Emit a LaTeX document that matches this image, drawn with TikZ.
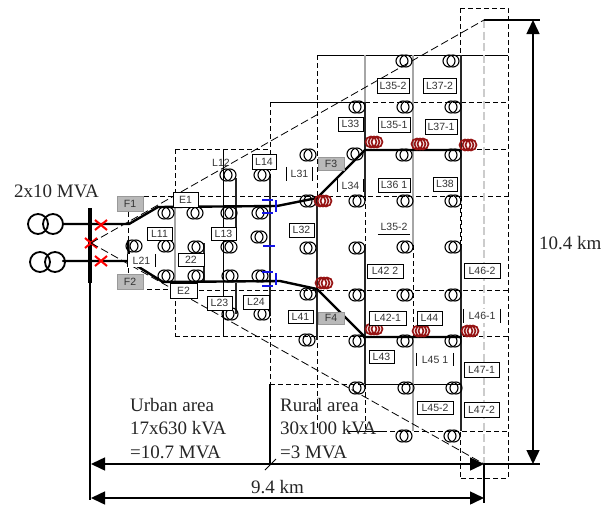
\documentclass[tikz,border=0pt]{standalone}
\usepackage{fontspec}
\setmainfont{Liberation Serif}
\newfontfamily\labfont{Liberation Sans}
\usetikzlibrary{arrows.meta}
\definecolor{darkred}{RGB}{150,20,20}
\definecolor{hvblue}{RGB}{20,20,230}
\definecolor{fgrey}{RGB}{185,185,185}
\tikzset{
  gridd/.style={line width=0.7pt,dash pattern=on 5pt off 3pt},
  grids/.style={line width=0.7pt},
  heavy/.style={line width=2.4pt,line cap=round,line join=round},
  feeder/.style={line width=1.8pt,black!85},
  greyline/.style={line width=1.6pt,black!35},
  longd/.style={line width=0.8pt,dash pattern=on 8pt off 3.5pt},
  dim/.style={line width=1.5pt,{Triangle[length=14pt,width=13pt]}-{Triangle[length=14pt,width=13pt]}},
  lab/.style={font=\labfont\fontsize{10.5}{11}\selectfont,fill=white,inner sep=0pt,text=black!80},
  boxed/.style={lab,draw,line width=0.7pt},
  fbox/.style={lab,fill=fgrey,draw=black!40,line width=0.5pt},
  bigt/.style={font=\fontsize{19}{22}\selectfont,inner sep=0pt,anchor=base west,text=black!85},
  ring/.style={draw,line width=1.1pt,circle,minimum size=12pt,inner sep=0pt},
  redring/.style={draw=darkred,line width=1.7pt,circle,minimum size=11pt,inner sep=0pt},
  hv/.style={draw,line width=1.8pt,circle,minimum size=20pt,inner sep=0pt},
  fault/.style={red,line width=2pt},
  bluemark/.style={hvblue,line width=1.6pt}
}
\newcommand{\xfmr}[3]{\node[ring] (#1a) at (#2-2,#3) {};\node[ring] (#1b) at (#2+2,#3) {};}
\newcommand{\redx}[3]{\node[redring] (#1a) at (#2-3,#3) {};\node[redring] (#1b) at (#2,#3) {};\node[redring] (#1c) at (#2+3,#3) {};}
\newcommand{\lbox}[7]{\node[#1,minimum width={(#4-#2)*1pt},minimum height={(#5-#3)*1pt}] (#6) at ({(#2+#4)/2},{(#3+#5)/2}) {#7};}
\newcommand{\lside}[6]{\node[lab,minimum width={(#3-#1)*1pt},minimum height={(#4-#2)*1pt}] (#5) at ({(#1+#3)/2},{(#2+#4)/2}) {#6};
  \draw[grids] (#5.north west)--(#5.south west) (#5.north east)--(#5.south east);}
\newcommand{\fx}[3]{\coordinate (#1) at (#2,#3);\draw[fault] (#2-6,#3-5)--(#2+6,#3+5) (#2-6,#3+5)--(#2+6,#3-5);}
\begin{document}
\begin{tikzpicture}[x=1pt,y=-1pt]
\useasboundingbox (0,0) rectangle (611,504);
% grid
\draw[gridd] (175,149)--(270,149) (365,149)--(508,149);
\draw[gridd] (128,196)--(508,196);
\draw[gridd] (128,196)--(128,289)--(175,289);
\draw[gridd] (175,290)--(508,290);
\draw[gridd,line width=1pt] (175,336)--(508,336);
\draw[grids] (270,102)--(365,102);
\draw[gridd] (365,102)--(508,102);
\draw[grids] (317,55)--(508,55);
\draw[gridd] (460,8)--(508,8)--(508,478)--(460,478);
\draw[gridd] (460,8)--(460,478);
\draw[gridd] (175,149)--(175,336);
\draw[gridd] (270,102)--(270,384);
\draw[gridd] (317,55)--(317,431);
\draw[gridd] (365,196)--(365,245) (365,384)--(365,431);
\draw[gridd] (413,245)--(413,337);
\draw[gridd] (461,196)--(461,245);
\draw[gridd] (270,384)--(365,384);
\draw[grids] (365,384)--(461,384);
\draw[grids] (347,431)--(382,431);
\draw[gridd,line width=1pt] (382,431)--(508,431);
\draw[grids] (223,149)--(223,336);
\draw[line width=1.4pt] (270,384)--(270,464);
% grey and feeder lines
\draw[longd,black!20,line width=1.4pt] (484,20)--(484,464);
\draw[greyline] (175,207)--(175,282);
\draw[greyline] (365,55)--(365,102);
\draw[greyline] (413,55)--(413,245) (413,337)--(413,431);
\draw[feeder] (236,178)--(236,241);
\draw[feeder] (204,243)--(204,281);
\draw[feeder] (236,283)--(236,314);
\draw[feeder] (270,178)--(270,316);
\draw[feeder] (317,198)--(317,340);
\draw[feeder] (365,102)--(365,196);
\draw[feeder] (365,245)--(365,384);
\draw[feeder] (461,55)--(461,196);
\draw[feeder] (461,245)--(461,431);
% main bus and feeders
\coordinate (bt) at (90,208); \coordinate (bb) at (90,283); \coordinate (be) at (90,500);
\coordinate (up0) at (63,224); \coordinate (up1) at (129,224); \coordinate (up2) at (158,207);
\coordinate (up3) at (277,206); \coordinate (j3) at (317,198); \coordinate (j5) at (365,150); \coordinate (j7) at (461,150);
\coordinate (lo0) at (63,261); \coordinate (lo1) at (129,261); \coordinate (lo2) at (163,282);
\coordinate (lo3) at (280,281); \coordinate (j4) at (317,289); \coordinate (j6) at (365,337); \coordinate (j8) at (461,337);
\coordinate (fT) at (128,241);
\draw[line width=3.6pt] (bt)--(bb);
\draw[line width=1.5pt] (bb)--(be);
\draw[heavy] (up0)--(up1)--(up2)--(up3)--(j3)--(j5)--(j7);
\draw[heavy] (lo0)--(lo1)--(lo2)--(lo3)--(j4)--(j6)--(j8);
\draw[heavy] (fT)--(lo1);
% supply transformers
\node[hv] (t1a) at (38,224) {}; \node[hv] (t1b) at (53,224) {};
\node[hv] (t2a) at (40,262) {}; \node[hv] (t2b) at (55,262) {};
% distribution transformers
\foreach \n/\x/\y in {a1/134/246,a2/166/246,a3/166/213,a4/195/213,a5/166/276,a6/196/276,a7/196/247,
 b1/229/213,b2/260/213,b3/228/175,b4/262/175,b5/229/247,b6/259/237,b7/230/276,b8/260/276,b9/230/314,b10/262/314,
 c1/308/155,c2/308/201,c3/308/248,c4/308/294,c5/307/340,
 d1/357/107,d2/355/154,d3/357/201,d4/357/248,d5/357/295,d6/357/341,d7/357/388,
 e1/404/61,e2/405/107,e3/404/155,e4/405/201,e5/405/247,e6/405/295,e7/405/341,e8/406/388,e9/404/436,
 f1/451/61,f2/453/107,f3/453/155,f4/453/201,f5/453/247,f6/453/295,f7/453/341,f8/454/388,f9/452/436}
 {\xfmr{\n}{\x}{\y}}
% red transformers
\foreach \n/\x/\y in {r1/374/142,r2/420/144,r3/468/145,r4/323/201,r5/324/283,r6/374/329,r7/421/331,r8/470/331}
 {\redx{\n}{\x}{\y}}
% blue marks
\draw[bluemark] (262,200)--(273,200) (262,213)--(273,213) (276,200)--(276,212);
\draw[bluemark] (263,246)--(275,246);
\draw[bluemark] (262,272)--(273,272) (262,286)--(273,286) (276,273)--(276,285);
% long dashed envelope
\fx{xm}{91}{243}
\coordinate (topc) at (484,20); \coordinate (botc) at (484,464);
\draw[longd] (xm)--(topc);
\draw[longd] (xm)--(botc);
\fx{xu}{101}{225}
\fx{xl}{101}{261}
% labels
\lbox{fbox}{117}{196}{143}{211}{F1}{F1}
\lbox{fbox}{117}{274}{143}{289}{F2}{F2}
\lbox{fbox}{318}{157}{344}{170}{F3}{F3}
\lbox{fbox}{318}{312}{344}{324}{F4}{F4}
\lbox{boxed}{173}{192}{198}{207}{E1}{E1}
\lbox{boxed}{170}{283}{197}{298}{E2}{E2}
\lbox{boxed}{147}{227}{172}{240}{L11}{L11}
\lside{128}{254}{155}{267}{L21}{L21}
\lbox{boxed}{178}{253}{204}{266}{L22}{22}
\node[lab,fill=none] (L12) at (221,163) {L12};
\lbox{boxed}{252}{154}{276}{169}{L14}{L14}
\lbox{boxed}{211}{227}{236}{240}{L13}{L13}
\lbox{boxed}{207}{296}{232}{310}{L23}{L23}
\lbox{boxed}{243}{295}{269}{309}{L24}{L24}
\lside{287}{167}{312}{181}{L31}{L31}
\lbox{boxed}{289}{223}{314}{237}{L32}{L32}
\lbox{boxed}{338}{117}{363}{131}{L33}{L33}
\lside{338}{179}{363}{192}{L34}{L34}
\lbox{boxed}{288}{310}{313}{323}{L41}{L41}
\lbox{boxed}{377}{78}{409}{93}{L352}{L35-2}
\lbox{boxed}{423}{78}{456}{93}{L372}{L37-2}
\lbox{boxed}{378}{117}{410}{132}{L351}{L35-1}
\lbox{boxed}{425}{119}{457}{134}{L371}{L37-1}
\lbox{boxed}{378}{178}{410}{192}{L361}{L36 1}
\lbox{boxed}{433}{177}{457}{191}{L38}{L38}
\lbox{lab}{378}{220}{410}{234}{L362}{L35-2}
\draw[grids] (L362.south west)--(L362.south east);
\lbox{boxed}{367}{264}{403}{278}{L422}{L42 2}
\lbox{boxed}{464}{263}{500}{278}{L462}{L46-2}
\lbox{boxed}{369}{311}{406}{325}{L421}{L42-1}
\lbox{boxed}{417}{311}{442}{325}{L44}{L44}
\lside{464}{309}{500}{323}{L461}{L46-1}
\lbox{boxed}{369}{350}{394}{363}{L43}{L43}
\lside{417}{353}{453}{366}{L451}{L45 1}
\lbox{boxed}{464}{362}{499}{377}{L471}{L47-1}
\lbox{boxed}{464}{402}{499}{417}{L472}{L47-2}
\lbox{boxed}{417}{401}{453}{414}{L452}{L45-2}
% dimensions
\coordinate (ex1) at (540,20); \coordinate (ex2) at (540,464);
\coordinate (vt) at (533,20); \coordinate (vb) at (533,464);
\coordinate (hl1) at (91,464); \coordinate (hl2) at (91,498);
\coordinate (hr2) at (484,498); \coordinate (hre) at (484,503); \coordinate (tk1) at (265,470); \coordinate (tk2) at (276,459);
\draw[line width=1.3pt] (topc)--(ex1) (botc)--(ex2) (botc)--(hre);
\draw[dim] (vt)--(vb);
\draw[dim] (hl1)--(botc);
\draw[dim] (hl2)--(hr2);
\draw[line width=0.9pt] (tk1)--(tk2);
% text
\node[bigt] (tMVA) at (14,197) {2x10 MVA};
\node[bigt] (tkmv) at (539,249) {10.4 km};
\node[bigt] (tkmh) at (251,493) {9.4 km};
\node[bigt] (u1) at (130,411) {Urban area};
\node[bigt] (u2) at (130,434) {17x630 kVA};
\node[bigt] (u3) at (130,458) {=10.7 MVA};
\node[bigt] (r1t) at (280,411) {Rural area};
\node[bigt] (r2t) at (280,434) {30x100 kVA};
\node[bigt] (r3t) at (280,458) {=3 MVA};
\end{tikzpicture}
\end{document}
